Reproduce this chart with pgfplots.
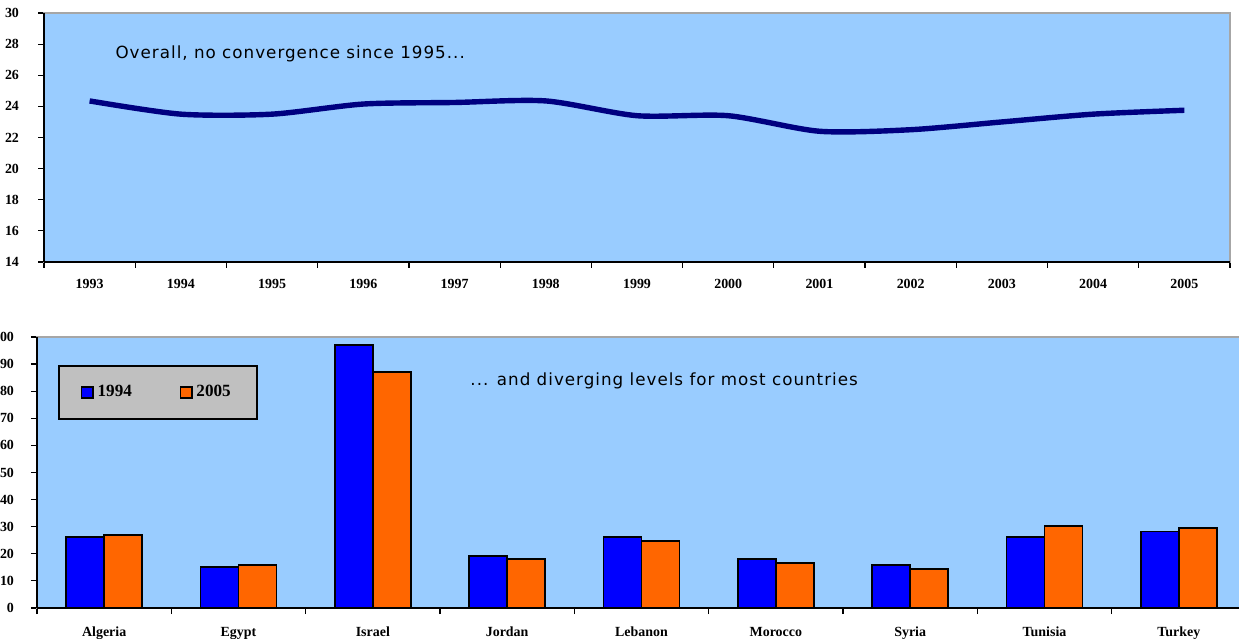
\documentclass[border=0pt]{standalone}
\usepackage{pgfplots}
\pgfplotsset{compat=1.18}
\usepackage{fontspec}
\setmainfont{Liberation Serif}
\newfontfamily\annfont[LetterSpace=6]{DejaVu Sans}

\definecolor{plotbg}{HTML}{99CCFF}
\definecolor{linenavy}{HTML}{000080}
\definecolor{barblue}{HTML}{0000FF}
\definecolor{barorange}{HTML}{FF6600}
\definecolor{legendgray}{HTML}{C0C0C0}

\newcommand{\tickfont}{\bfseries\fontsize{7}{7}\selectfont}
\newcommand{\legfont}{\bfseries\fontsize{8.6}{9}\selectfont}

\begin{document}
\begin{tikzpicture}
\useasboundingbox (0,0) rectangle (619.5bp,319.5bp);

% Average level, 1993-2005
\begin{axis}[
  at={(22bp,188.5bp)}, anchor=south west,
  scale only axis, width=593bp, height=124.5bp,
  xmin=1992.5, xmax=2005.5, ymin=14, ymax=30,
  axis background/.style={fill=plotbg},
  axis line style={draw=gray!70, line width=0.6bp},
  xtick={1992.5,1993.5,...,2005.5},
  x tick label as interval,
  xticklabels={1993,1994,1995,1996,1997,1998,1999,2000,2001,2002,2003,2004,2005},
  ytick={14,16,...,30},
  tick align=outside, major tick length=3bp,
  tick style={black, line width=0.6bp},
  xtick pos=bottom, ytick pos=left,
  tick label style={font=\tickfont},
  /pgf/number format/assume math mode=true,
  xticklabel style={yshift=-2bp},
  yticklabel style={xshift=-6bp},
  clip=false,
]
\draw[black, line width=0.8bp] (rel axis cs:0,0) -- (rel axis cs:1,0);
\draw[black, line width=0.8bp] (rel axis cs:0,0) -- (rel axis cs:0,1);
\addplot[linenavy, line width=2.7bp, smooth, tension=0.45] coordinates {
  (1993,24.35) (1994,23.5) (1995,23.5) (1996,24.15) (1997,24.25)
  (1998,24.35) (1999,23.4) (2000,23.4) (2001,22.4) (2002,22.5)
  (2003,23.0) (2004,23.5) (2005,23.75)
};
\node[anchor=west, font=\annfont\fontsize{8.4}{10}\selectfont, inner sep=0pt]
  at (axis cs:1993.28,27.37) {Overall, no convergence since 1995...};
\end{axis}

% Country levels, 1994 and 2005
\begin{axis}[
  at={(18.5bp,15.5bp)}, anchor=south west,
  scale only axis, width=604.5bp, height=135.5bp,
  xmin=-0.5, xmax=8.5, ymin=0, ymax=100,
  axis background/.style={fill=plotbg},
  axis line style={draw=gray!70, line width=0.6bp},
  ybar=0pt, bar width=19bp,
  xtick={-0.5,0.5,...,8.5},
  x tick label as interval,
  xticklabels={Algeria,Egypt,Israel,Jordan,Lebanon,Morocco,Syria,Tunisia,Turkey},
  ytick={0,10,...,100},
  tick align=outside, major tick length=3bp,
  tick style={black, line width=0.6bp},
  xtick pos=bottom, ytick pos=left,
  tick label style={font=\tickfont},
  /pgf/number format/assume math mode=true,
  xticklabel style={yshift=-3bp},
  yticklabel style={xshift=-5bp},
  clip=false,
  legend columns=2,
  legend style={at={(0.1,0.795)}, anchor=center, draw=none, fill=none,
    font=\legfont, inner sep=0pt,
    /tikz/every even column/.append style={column sep=22bp}},
  legend image code/.code={%
    \draw[#1, line width=0.7bp] (0bp,-2.7bp) rectangle (5.6bp,2.7bp);},
]
\draw[black, line width=0.8bp] (rel axis cs:0,0) -- (rel axis cs:1,0);
\draw[black, line width=0.8bp] (rel axis cs:0,0) -- (rel axis cs:0,1);
\draw[black, fill=legendgray, line width=0.8bp]
  (axis cs:-0.336,69.7) rectangle (axis cs:1.138,89.2);
\addplot[fill=barblue, draw=black, line width=0.9bp] coordinates {
  (0,26.3) (1,15.2) (2,97.0) (3,19.2) (4,26.1)
  (5,18.0) (6,15.9) (7,26.1) (8,28.2)
};
\addplot[fill=barorange, draw=black, line width=0.9bp] coordinates {
  (0,26.9) (1,15.9) (2,87.0) (3,18.0) (4,24.7)
  (5,16.6) (6,14.5) (7,30.3) (8,29.4)
};
\legend{1994,2005}
\node[anchor=west, font=\annfont\fontsize{8.4}{10}\selectfont, inner sep=0pt]
  at (axis cs:2.724,83.8) {... and diverging levels for most countries};
\end{axis}
\end{tikzpicture}
\end{document}
